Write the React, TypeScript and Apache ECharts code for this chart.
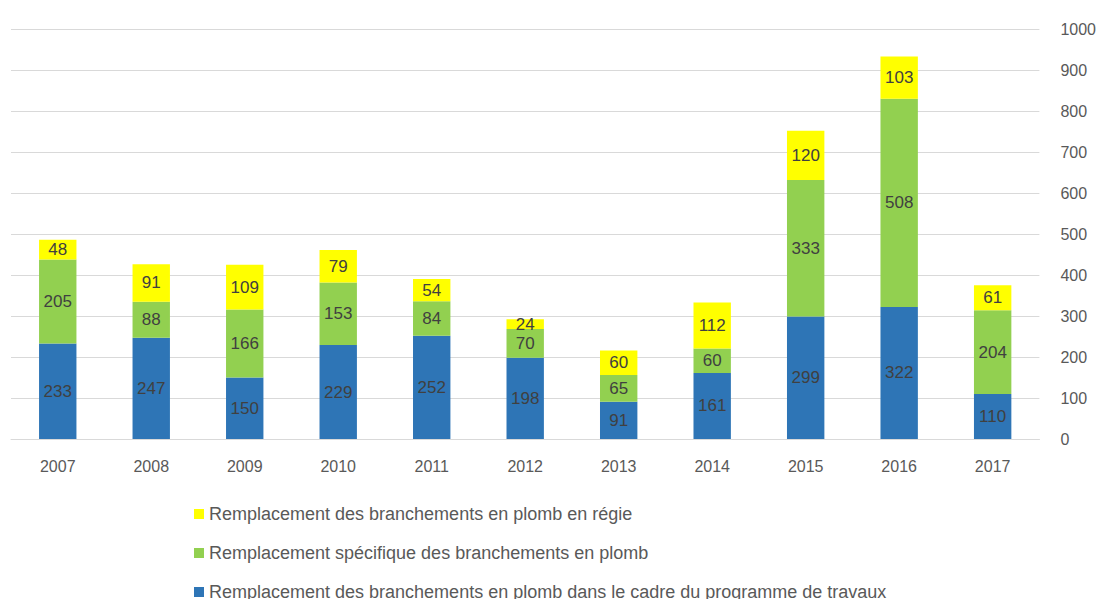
import React, { useEffect, useRef } from "react";
import * as echarts from "echarts";

const categories = ["2007", "2008", "2009", "2010", "2011", "2012", "2013", "2014", "2015", "2016", "2017"];
const travaux = [233, 247, 150, 229, 252, 198, 91, 161, 299, 322, 110];
const specifique = [205, 88, 166, 153, 84, 70, 65, 60, 333, 508, 204];
const regie = [48, 91, 109, 79, 54, 24, 60, 112, 120, 103, 61];

const nameRegie = "Remplacement des branchements en plomb en régie";
const nameSpec = "Remplacement spécifique des branchements en plomb";
const nameTrav = "Remplacement des branchements en plomb dans le cadre du programme de travaux";

const FONT = "'Liberation Sans', Arial, sans-serif";

export default function App() {
  const ref = useRef<HTMLDivElement>(null);
  useEffect(() => {
    const chart = echarts.init(ref.current!, undefined, { renderer: "svg" });
    const label = {
      show: true,
      position: "inside",
      color: "#404040",
      fontSize: 17,
      fontFamily: FONT,
    };
    chart.setOption({
      animation: false,
      textStyle: { fontFamily: FONT },
      grid: { left: 3, right: 55, top: 21, bottom: 160, containLabel: false },
      legend: {
        orient: "vertical",
        left: 181,
        top: 492,
        height: 150,
        itemWidth: 10,
        itemHeight: 10,
        itemGap: 21,
        icon: "rect",
        data: [nameRegie, nameSpec, nameTrav],
        textStyle: { color: "#595959", fontSize: 18, lineHeight: 18, fontFamily: FONT },
      },
      xAxis: {
        type: "category",
        data: categories,
        axisLine: { lineStyle: { color: "#d9d9d9", width: 1 } },
        axisTick: { show: false },
        axisLabel: { color: "#595959", fontSize: 16, margin: 19, fontFamily: FONT },
      },
      yAxis: {
        type: "value",
        position: "right",
        min: 0,
        max: 1000,
        interval: 100,
        axisLine: { show: false },
        axisTick: { show: false },
        axisLabel: {
          color: "#595959",
          fontSize: 16,
          margin: 21,
          align: "left",
          fontFamily: FONT,
          formatter: (v: number) => String(v),
        },
        splitLine: { lineStyle: { color: "#d9d9d9", width: 1 } },
      },
      series: [
        { name: nameTrav, type: "bar", stack: "a", data: travaux, barWidth: "40%", itemStyle: { color: "#2E75B6" }, label },
        { name: nameSpec, type: "bar", stack: "a", data: specifique, barWidth: "40%", itemStyle: { color: "#92D050" }, label },
        { name: nameRegie, type: "bar", stack: "a", data: regie, barWidth: "40%", itemStyle: { color: "#FFFF00" }, label },
      ],
    });
    return () => chart.dispose();
  }, []);
  return <div ref={ref} style={{ width: 1091, height: 591 }} />;
}
